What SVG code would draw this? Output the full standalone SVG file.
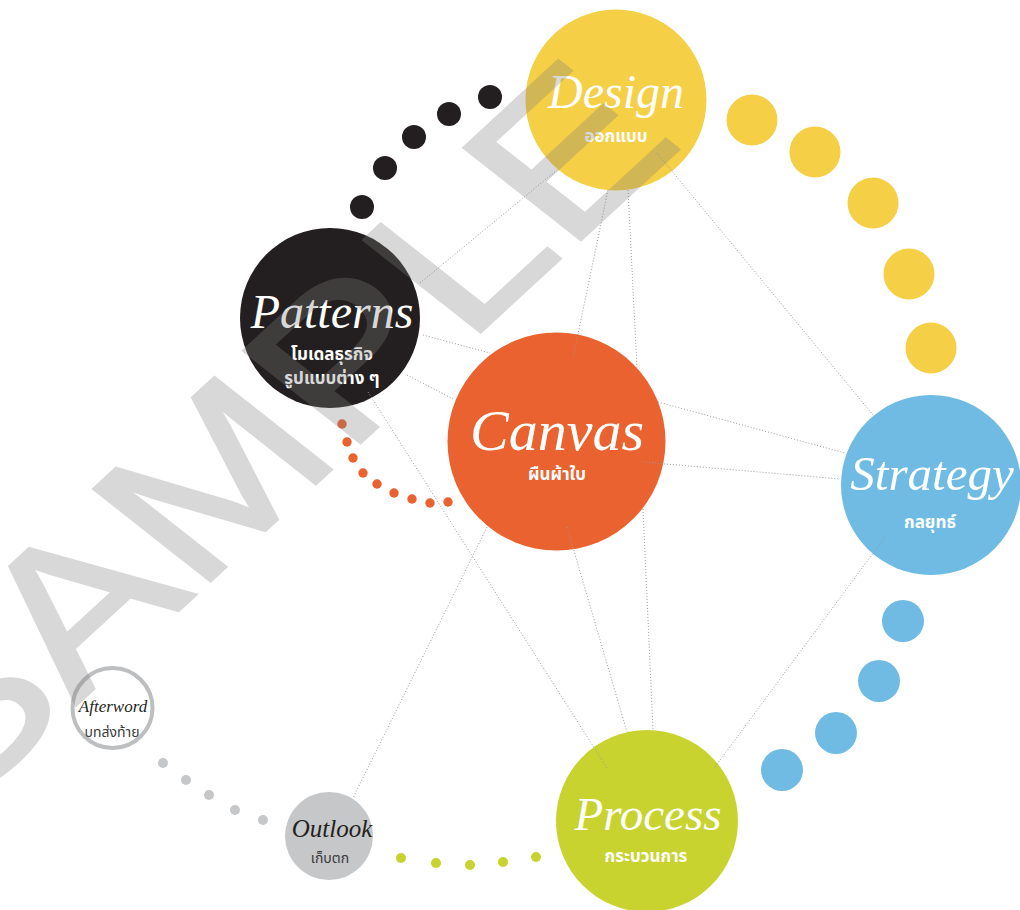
<svg xmlns="http://www.w3.org/2000/svg" width="1020" height="910" viewBox="0 0 1020 910">
<style>
.en{font-family:"Liberation Serif","DejaVu Serif",serif;font-style:italic;text-anchor:middle;fill:#ffffff}
.th{font-family:"Noto Sans Thai","Noto Sans","DejaVu Sans",sans-serif;font-weight:bold;text-anchor:middle;fill:#ffffff}
.dk{fill:#231f20}
.thd{font-weight:normal;fill:#3a3a3a}
.link{stroke:#9a9a9a;stroke-width:1;stroke-dasharray:1 2;fill:none}
.wm{font-family:"Liberation Sans","DejaVu Sans",sans-serif;fill:#7f7f7f;stroke:#7f7f7f;stroke-width:1.4}
</style>
<rect width="1020" height="910" fill="#ffffff"/>
<g id="dots">
<g fill="#231f20">
<circle cx="362" cy="207" r="12"/><circle cx="385" cy="168" r="12"/><circle cx="414" cy="137" r="12"/><circle cx="449" cy="114" r="12"/><circle cx="490" cy="97" r="12"/>
</g>
<g fill="#f5cf45">
<circle cx="752" cy="120" r="25.5"/><circle cx="815" cy="152" r="25.5"/><circle cx="873" cy="203" r="25.5"/><circle cx="909" cy="274" r="25.5"/><circle cx="931" cy="348" r="25.5"/>
</g>
<g fill="#6fbbe3">
<circle cx="903" cy="621" r="21"/><circle cx="879" cy="681" r="21"/><circle cx="836" cy="733" r="21"/><circle cx="782" cy="770" r="21"/>
</g>
<g fill="#e9622f">
<circle cx="342" cy="424" r="4.7"/><circle cx="347" cy="442" r="4.7"/><circle cx="353" cy="458" r="4.7"/><circle cx="363" cy="473" r="4.7"/><circle cx="377" cy="484" r="4.7"/><circle cx="394" cy="493" r="4.7"/><circle cx="412" cy="499" r="4.7"/><circle cx="430" cy="503" r="4.7"/><circle cx="448" cy="502" r="4.7"/>
</g>
<g fill="#c9d32f">
<circle cx="401" cy="858" r="5"/><circle cx="436" cy="863" r="5"/><circle cx="470" cy="865" r="5"/><circle cx="503" cy="862" r="5"/><circle cx="536" cy="857" r="5"/>
</g>
<g fill="#c6c7c9">
<circle cx="163" cy="763" r="5"/><circle cx="186" cy="780" r="5"/><circle cx="209" cy="795" r="5"/><circle cx="235" cy="810" r="5"/><circle cx="263" cy="820" r="5"/>
</g>
</g>
<g id="node-design">
<circle cx="616" cy="100" r="90.5" fill="#f5cf45"/>
<text class="en" x="616" y="108" font-size="48">Design</text>
<text class="th" x="616" y="142" font-size="17">ออกแบบ</text>
</g>
<g id="node-patterns">
<circle cx="330" cy="318" r="90" fill="#231f20"/>
<text class="en" x="332" y="328" font-size="48">Patterns</text>
<text class="th" x="332" y="360" font-size="17">โมเดลธุรกิจ</text>
<text class="th" x="332" y="384" font-size="17">รูปแบบต่าง ๆ</text>
</g>
<g id="node-canvas">
<circle cx="556.5" cy="441.5" r="109" fill="#e9622f"/>
<text class="en" x="557" y="450" font-size="58">Canvas</text>
<text class="th" x="557" y="480" font-size="17">ผืนผ้าใบ</text>
</g>
<g id="node-strategy">
<circle cx="931" cy="485" r="90" fill="#6fbbe3"/>
<text class="en" x="932" y="490" font-size="49">Strategy</text>
<text class="th" x="930" y="528" font-size="17">กลยุทธ์</text>
</g>
<g id="node-process">
<circle cx="647" cy="821" r="91" fill="#c9d32f"/>
<text class="en" x="648" y="830" font-size="47">Process</text>
<text class="th" x="646" y="862" font-size="17">กระบวนการ</text>
</g>
<g id="node-outlook">
<circle cx="329" cy="836" r="44" fill="#c6c7c9"/>
<text class="en dk" x="332" y="837" font-size="25">Outlook</text>
<text class="th thd" x="330" y="863" font-size="14">เก็บตก</text>
</g>
<g id="node-afterword">
<circle cx="112.5" cy="708" r="40" fill="#ffffff" stroke="#bdbec0" stroke-width="4"/>
<text class="en dk" x="113" y="712" font-size="17">Afterword</text>
<text class="th thd" x="112" y="737" font-size="14">บทส่งท้าย</text>
</g>
<g id="connectors">
<line class="link" x1="420" y1="283" x2="557" y2="170"/>
<line class="link" x1="608" y1="190" x2="573" y2="358"/>
<line class="link" x1="628" y1="190" x2="637" y2="368"/>
<line class="link" x1="643" y1="509" x2="653" y2="730"/>
<line class="link" x1="657" y1="153" x2="873" y2="415"/>
<line class="link" x1="658" y1="402" x2="845" y2="453"/>
<line class="link" x1="643" y1="462" x2="840" y2="479"/>
<line class="link" x1="885" y1="537" x2="715" y2="767"/>
<line class="link" x1="423" y1="335" x2="490" y2="353"/>
<line class="link" x1="407" y1="375" x2="455" y2="400"/>
<line class="link" x1="368" y1="392" x2="607" y2="768"/>
<line class="link" x1="487" y1="527" x2="353" y2="798"/>
<line class="link" x1="567" y1="527" x2="627" y2="732"/>
</g>
<g id="watermark" opacity="0.3">
<text class="wm" transform="matrix(1.80 -1.66 1.70 1.34 -44 816)" font-size="100">SAMPLE</text>
</g>
</svg>
